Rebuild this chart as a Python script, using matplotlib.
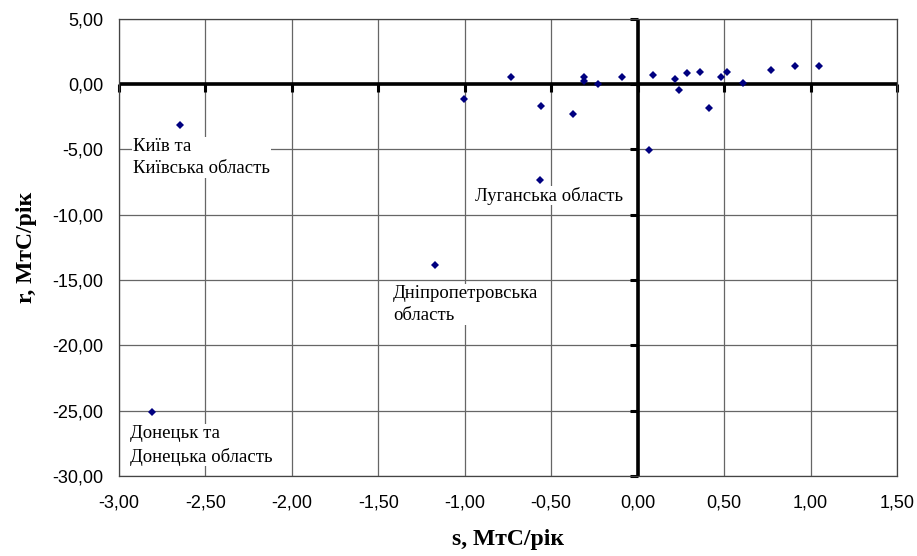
import matplotlib
matplotlib.use("Agg")
import matplotlib.pyplot as plt

# s and r per region (MtC/year)
s_vals = [-2.807, -2.649, -1.173, -1.003, -0.733, -0.565, -0.560, -0.374,
          -0.312, -0.312, -0.231, -0.091, 0.067, 0.090, 0.218, 0.239,
          0.283, 0.362, 0.413, 0.482, 0.515, 0.611, 0.770, 0.912, 1.047]
r_vals = [-25.12, -3.16, -13.82, -1.15, 0.51, -7.34, -1.66, -2.32,
          0.54, 0.23, 0.00, 0.54, -5.03, 0.66, 0.36, -0.48,
          0.82, 0.89, -1.81, 0.51, 0.89, 0.05, 1.05, 1.40, 1.40]

labels = ["Київ та\nКиївська область", "Луганська область",
          "Дніпропетровська\nобласть", "Донецьк та\nДонецька область"]
label_xy = [(-2.92, -4.1), (-0.94, -8.55), (-1.416, -15.4), (-2.937, -26.1)]

x_ticks = [-3.0, -2.5, -2.0, -1.5, -1.0, -0.5, 0.0, 0.5, 1.0, 1.5]
y_ticks = [5, 0, -5, -10, -15, -20, -25, -30]

fig = plt.figure(figsize=(9.17, 5.56), dpi=100)
ax = fig.add_axes([0.1298, 0.1439, 0.8484, 0.8225])
ax.set_xlim(-3.0, 1.5)
ax.set_ylim(-30, 5)

ax.set_xticks(x_ticks)
ax.set_yticks(y_ticks)
ax.set_xticklabels([f"{v:.2f}".replace(".", ",") for v in x_ticks],
                   family="Liberation Sans", fontsize=13)
ax.set_yticklabels([f"{v:.2f}".replace(".", ",") for v in y_ticks],
                   family="Liberation Sans", fontsize=13)
ax.tick_params(axis="y", length=0, pad=11)
ax.tick_params(axis="x", length=0, pad=13)
ax.grid(True, color="#666666", lw=0.9)
ax.set_axisbelow(True)
for sp in ax.spines.values():
    sp.set_color("#444444"); sp.set_linewidth(0.9)

# thick crossing axes with small tick marks, excel style
ax.axhline(0, color="black", lw=2.6, zorder=2)
ax.axvline(0, color="black", lw=2.6, zorder=2)
ax.plot(x_ticks, [0] * len(x_ticks), ls="none", marker=3, color="black",
        ms=6, mew=2.2, zorder=2, clip_on=False)
ax.plot([0] * len(y_ticks), y_ticks, ls="none", marker=0, color="black",
        ms=6, mew=2.2, zorder=2, clip_on=False)

ax.plot(s_vals, r_vals, ls="none", marker="D", ms=4.2, mew=0,
        color="#000080", zorder=3)

for txt, (tx, ty) in zip(labels, label_xy):
    ax.text(tx, ty, txt, family="Liberation Serif", fontsize=13.5,
            va="top" if "\n" in txt else "center", ha="left", zorder=4,
            linespacing=1.4,
            bbox=dict(facecolor="white", edgecolor="none", pad=0.5))

ax.set_xlabel("s, МтС/рік", family="Liberation Serif", fontweight="bold",
              fontsize=17, labelpad=13)
ax.set_ylabel("r, МтС/рік", family="Liberation Serif", fontweight="bold",
              fontsize=17, labelpad=11)

fig.savefig("out.png", dpi=100)
